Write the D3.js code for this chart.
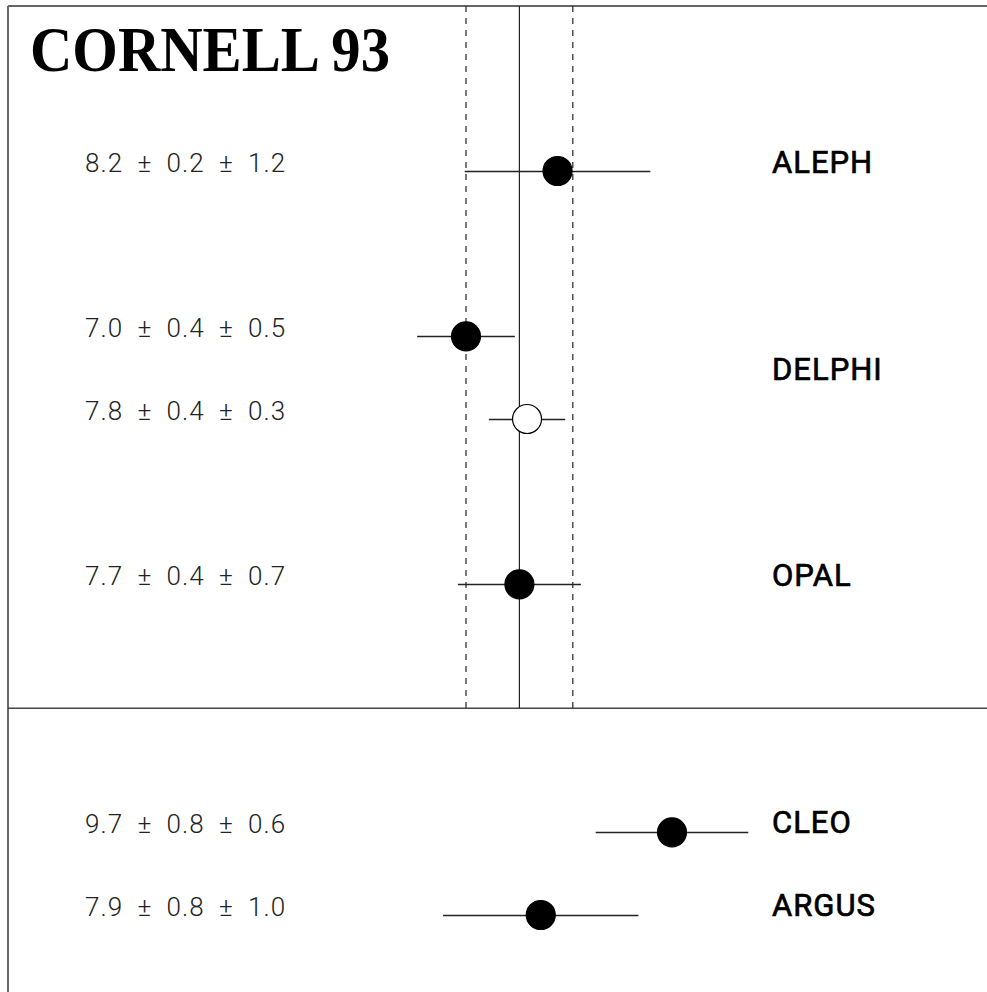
<!DOCTYPE html>
<html>
<head>
<meta charset="utf-8">
<script src="https://cdn.jsdelivr.net/npm/d3@7"></script>
<style>
  html, body { margin: 0; padding: 0; background: #fff; }
  svg { display: block; }
</style>
</head>
<body>
<div id="chart"></div>
<script>
// Messungen (Werte aus dem Bild gelesen)
var experiments = ["ALEPH", "DELPHI", "DELPHI", "OPAL", "CLEO", "ARGUS"];
var labels = ["8.2 \u00b1 0.2 \u00b1 1.2", "7.0 \u00b1 0.4 \u00b1 0.5", "7.8 \u00b1 0.4 \u00b1 0.3",
              "7.7 \u00b1 0.4 \u00b1 0.7", "9.7 \u00b1 0.8 \u00b1 0.6", "7.9 \u00b1 0.8 \u00b1 1.0"];
var values = [8.2, 7.0, 7.8, 7.7, 9.7, 7.98];
var statErr = [0.2, 0.4, 0.4, 0.4, 0.8, 0.8];
var sysErr = [1.2, 0.5, 0.3, 0.7, 0.6, 1.0];
var filled = [true, true, false, true, true, true];
var rows = [0, 2, 3, 5, 8, 9];
// Mittelwert mit Band
var average = [7.0, 7.7, 8.4];
// Namen rechts (DELPHI einmal zwischen den zwei Punkten)
var names = ["ALEPH", "DELPHI", "OPAL", "CLEO", "ARGUS"];
var nameRows = [0, 2.5, 5, 8, 9];

var width = 987, height = 992;

var svg = d3.select("#chart")
  .append("svg")
    .attr("width", width)
    .attr("height", height);

// Skalen
var x = d3.scaleLinear().domain([7.0, 9.7]).range([466, 672]);
var y = d3.scaleLinear().domain([0, 9]).range([171, 915]);

// Rahmen
svg.append("line")
  .attr("x1", 8).attr("x2", width).attr("y1", 6).attr("y2", 6)
  .style("stroke", "#666").style("stroke-width", 2);
svg.append("line")
  .attr("x1", 8).attr("x2", 8).attr("y1", 6).attr("y2", height)
  .style("stroke", "#666").style("stroke-width", 2);
svg.append("line")
  .attr("x1", 8).attr("x2", width).attr("y1", y(6.5)).attr("y2", y(6.5))
  .style("stroke", "#444").style("stroke-width", 1.5);

// Mittelwert und Band
svg.selectAll("avgLines")
  .data(average)
  .enter()
  .append("line")
    .attr("x1", function(d){ return x(d) })
    .attr("x2", function(d){ return x(d) })
    .attr("y1", 6)
    .attr("y2", y(6.5))
    .style("stroke", "#222")
    .style("stroke-width", 1.2)
    .style("stroke-dasharray", function(d, i){ return i == 1 ? null : "6,6" });

// Fehlerbalken
svg.selectAll("errBars")
  .data(values)
  .enter()
  .append("line")
    .attr("x1", function(d, i){ return x(d - Math.hypot(statErr[i], sysErr[i])) })
    .attr("x2", function(d, i){ return x(d + Math.hypot(statErr[i], sysErr[i])) })
    .attr("y1", function(d, i){ return Math.round(y(rows[i])) + 0.5 })
    .attr("y2", function(d, i){ return Math.round(y(rows[i])) + 0.5 })
    .style("stroke", "#222")
    .style("stroke-width", 1.3);

// Punkte
svg.selectAll("points")
  .data(values)
  .enter()
  .append("circle")
    .attr("cx", function(d){ return x(d) })
    .attr("cy", function(d, i){ return y(rows[i]) })
    .attr("r", 14.5)
    .style("fill", function(d, i){ return filled[i] ? "#000" : "#fff" })
    .style("stroke", "#000")
    .style("stroke-width", 1.2);

// Werte links
svg.selectAll("valueLabels")
  .data(labels)
  .enter()
  .append("text")
    .attr("x", 85)
    .attr("y", function(d, i){ return y(rows[i]) - 8 })
    .attr("dy", "0.35em")
    .text(function(d){ return d })
    .style("font-family", "Roboto, sans-serif")
    .style("font-weight", 300)
    .style("font-size", "26px")
    .style("letter-spacing", "1px")
    .style("word-spacing", "7px")
    .style("fill", "#222");

// Experimentnamen rechts
svg.selectAll("names")
  .data(names)
  .enter()
  .append("text")
    .attr("x", 772)
    .attr("y", function(d, i){ return y(nameRows[i]) - (i >= 3 ? 10 : 9) })
    .attr("dy", "0.35em")
    .text(function(d){ return d })
    .style("font-family", "Roboto, sans-serif")
    .style("font-weight", 400)
    .style("font-size", "31px")
    .style("letter-spacing", "1px")
    .style("fill", "#000")
    .style("stroke", "#000")
    .style("stroke-width", 0.7);

// Titel
svg.append("text")
  .attr("x", 30)
  .attr("y", 71)
  .attr("textLength", 360)
  .attr("lengthAdjust", "spacingAndGlyphs")
  .text("CORNELL 93")
  .style("font-family", "'Liberation Serif', 'Times New Roman', serif")
  .style("font-weight", "bold")
  .style("font-size", "63px")
  .style("fill", "#000");
</script>
</body>
</html>
